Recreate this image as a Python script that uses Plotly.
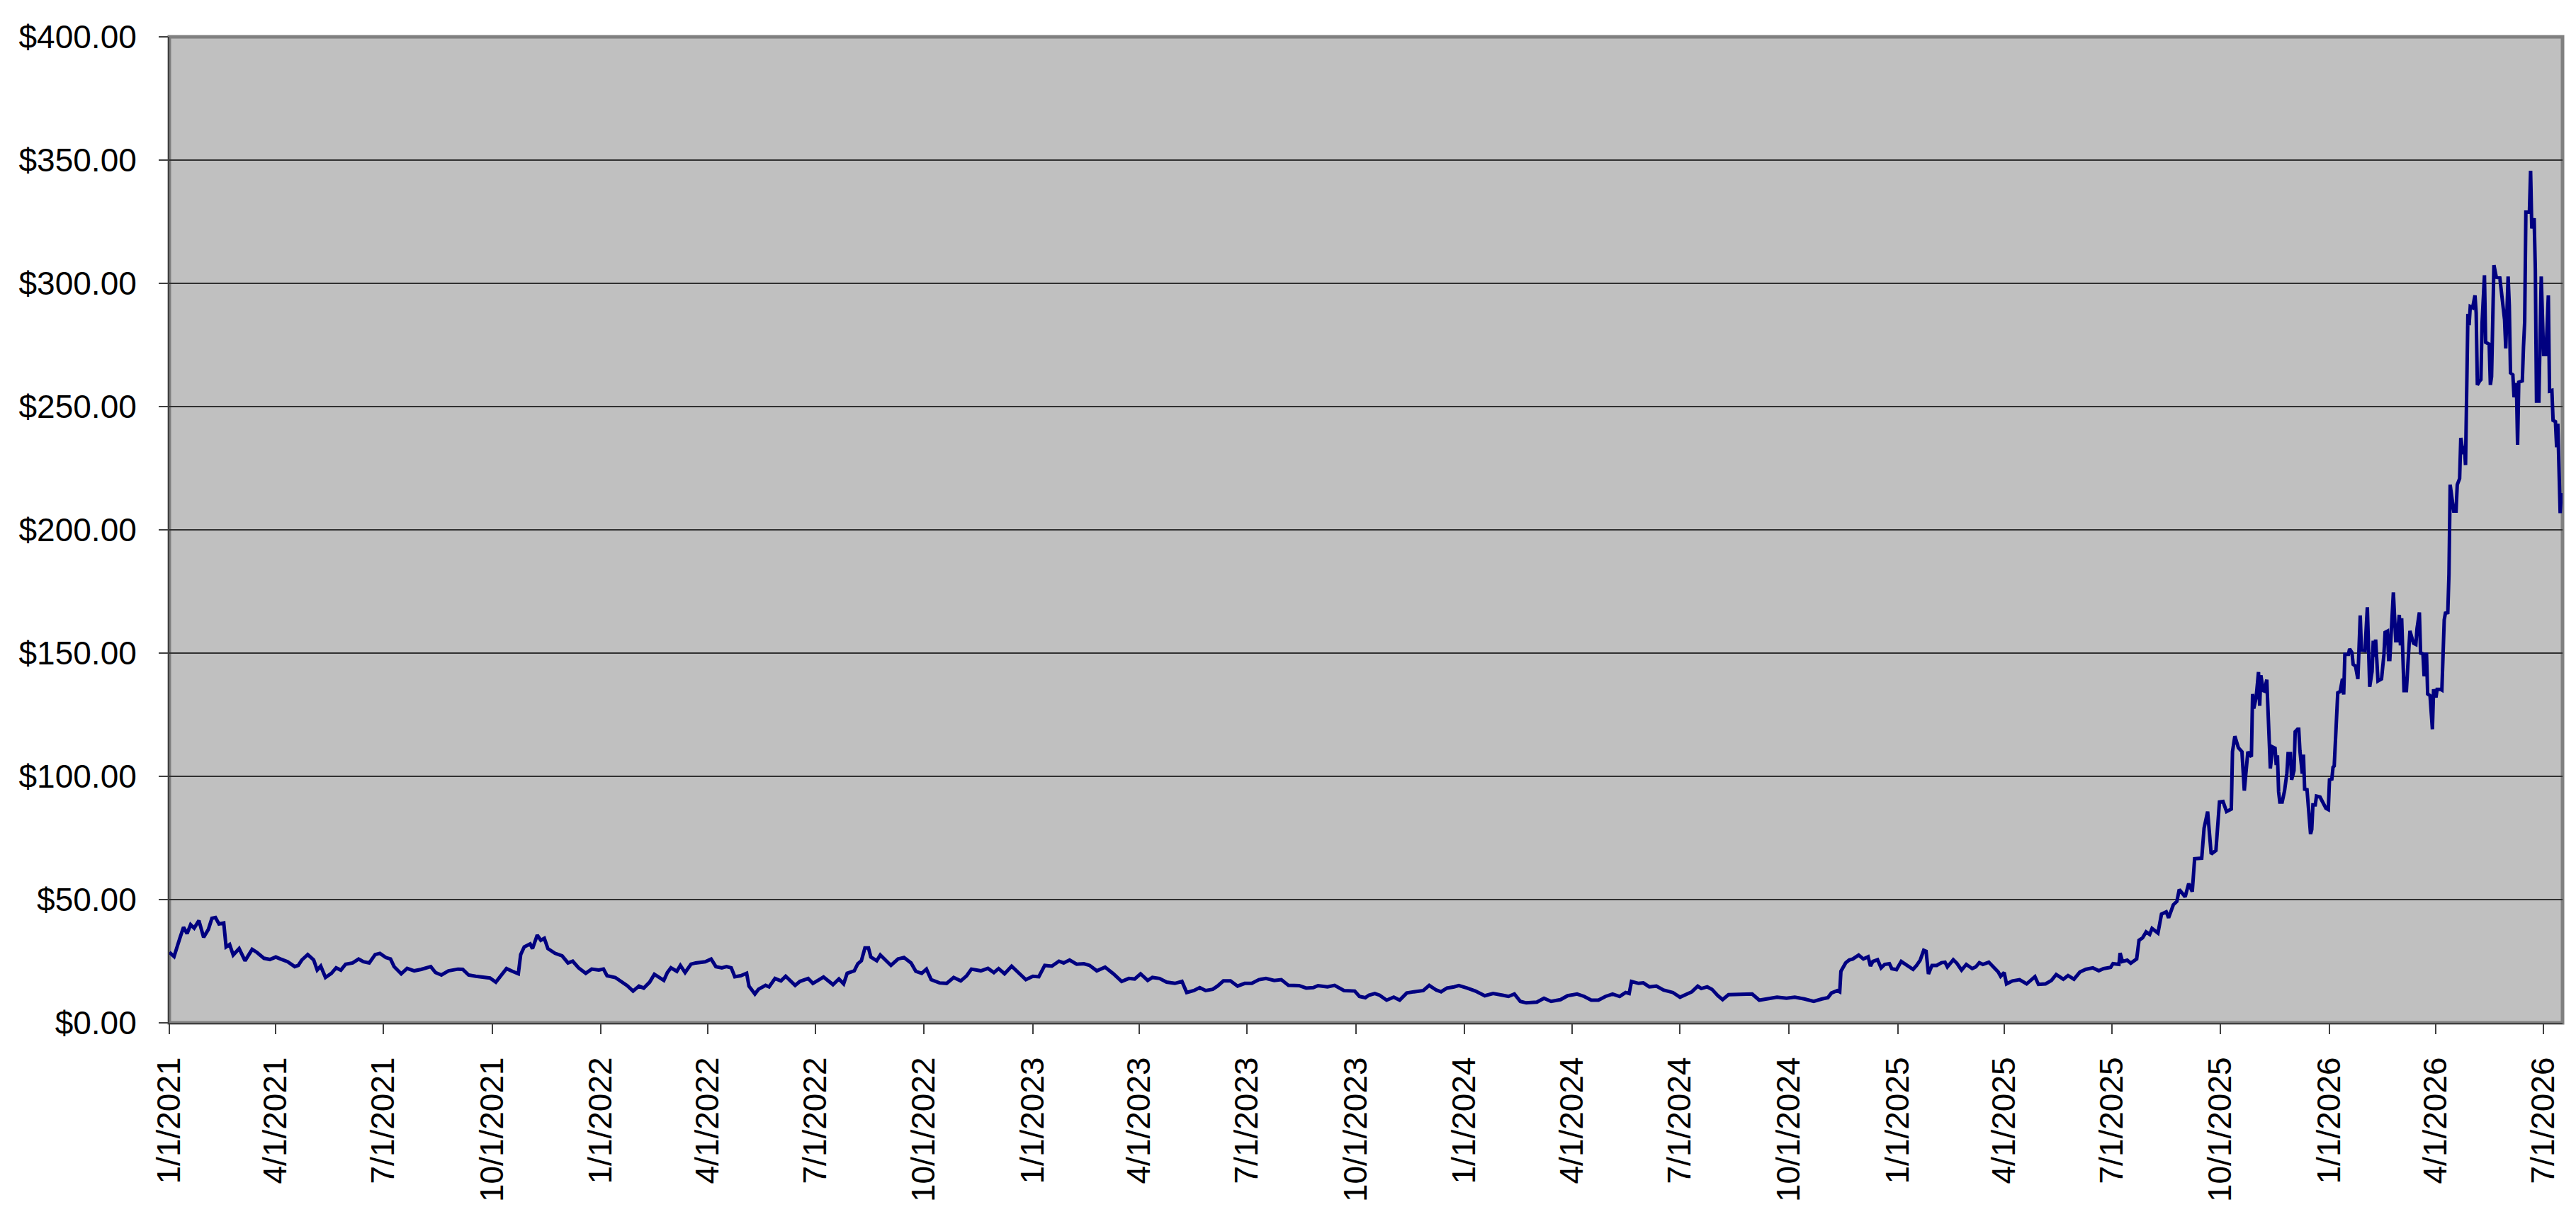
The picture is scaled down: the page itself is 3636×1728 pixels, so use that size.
import pandas as pd
import plotly.graph_objects as go

# price readings, x given as days since 1/1/2021
days_2021 = [0, 4, 9, 12, 15, 18, 21, 25, 29, 33, 36, 39, 42, 46, 48, 51, 54, 59, 64, 70,
             74, 80, 85, 90, 94, 100, 106, 109, 112, 117, 122, 125, 128, 132, 137, 141, 145, 149, 155, 160,
             164, 169, 174, 178, 183, 187, 190, 196, 201, 207, 213, 221, 225, 230, 236, 244, 248, 253, 259, 265,
             271, 276, 280, 285, 290, 295, 297, 300, 305, 307, 311, 314, 317, 320, 326, 332, 337, 341, 346, 352,
             357, 363, 367, 370, 377, 381, 387, 392, 397, 401, 406, 410, 415, 418, 421, 424, 429, 432, 436, 441,
             445, 448, 453, 458, 462, 467, 471]
price_2021 = [28.6, 26.9, 34.5, 38.8, 36.2, 39.8, 38.4, 41.5, 34.7, 37.9, 42.4, 42.7, 40.1, 40.5, 30.8, 31.8, 27.5, 30.1, 25.2, 29.8,
              28.6, 26.2, 25.7, 26.7, 25.9, 24.8, 22.8, 23.3, 25.5, 27.7, 25.5, 21.4, 23.0, 18.4, 20.1, 22.3, 21.4, 23.8, 24.3, 25.9,
              24.8, 24.3, 27.7, 28.2, 26.5, 25.9, 22.8, 19.9, 22.1, 21.1, 21.7, 22.8, 20.4, 19.4, 21.1, 21.8, 21.7, 19.4, 18.9, 18.7,
              18.2, 16.5, 18.9, 22.0, 20.9, 19.9, 27.7, 30.8, 32.0, 30.1, 35.6, 33.5, 34.3, 30.1, 28.2, 27.2, 24.3, 25.0, 22.3, 20.1,
              21.8, 21.4, 21.8, 19.1, 18.4, 17.2, 15.1, 12.9, 14.9, 14.1, 16.5, 19.7, 18.0, 17.2, 20.4, 22.3, 20.9, 23.3, 20.4, 23.8,
              24.3, 24.6, 24.8, 25.9, 22.8, 22.3, 22.8]

days_2022 = [475, 478, 483, 488, 490, 495, 498, 504, 507, 512, 517, 521, 529, 533, 540, 544, 553, 561, 566, 570,
             573, 579, 582, 585, 588, 591, 593, 598, 601, 605, 610, 616, 621, 627, 631, 636, 640, 644, 651, 657,
             663, 669, 674, 678, 686, 692, 697, 701, 706, 712, 717, 724, 730, 735, 740, 746, 752, 756, 761, 767,
             773, 778, 784, 791, 798, 805, 811, 816, 821, 827, 831, 837, 843, 850, 856, 860, 866, 871, 876, 882,
             886, 891, 897, 903, 909, 915, 921, 927, 934, 940, 946, 953]
price_2022 = [22.3, 18.7, 19.1, 20.1, 14.9, 11.7, 13.6, 15.2, 14.6, 18.0, 17.0, 18.9, 15.2, 16.8, 18.0, 16.0, 18.6, 15.5, 17.8, 15.8,
              20.1, 21.1, 24.0, 25.2, 30.4, 30.4, 26.7, 25.2, 27.5, 25.5, 23.3, 25.9, 26.5, 24.3, 20.9, 20.1, 21.8, 17.5, 16.2, 16.0,
              18.4, 17.0, 19.1, 21.8, 21.1, 22.1, 20.4, 22.0, 19.9, 23.0, 20.9, 17.5, 18.9, 18.7, 23.3, 23.0, 25.0, 24.3, 25.5, 23.8,
              24.0, 23.3, 21.1, 22.6, 19.9, 16.8, 18.0, 17.8, 19.9, 17.2, 18.4, 18.0, 16.5, 16.0, 16.8, 12.3, 13.1, 14.3, 13.1, 13.6,
              14.9, 17.0, 17.0, 14.9, 16.0, 16.0, 17.5, 18.0, 17.2, 17.5, 15.2, 14.9]

days_2023 = [955, 961, 967, 971, 979, 985, 993, 1002, 1006, 1011, 1014, 1019, 1023, 1029, 1035, 1040, 1046, 1052, 1060, 1065,
             1071, 1075, 1080, 1086, 1090, 1097, 1104, 1112, 1119, 1127, 1132, 1137, 1142, 1147, 1156, 1162, 1168, 1176, 1182, 1190,
             1196, 1202, 1208, 1214, 1220, 1226, 1231, 1234, 1236, 1242, 1246, 1251, 1257, 1263, 1271, 1277, 1283, 1287, 1292, 1295,
             1300, 1304, 1309, 1313, 1318, 1327, 1338, 1344, 1352, 1359, 1367, 1374, 1382, 1390, 1397, 1402, 1405, 1410, 1412, 1413,
             1417, 1420, 1423, 1428, 1432]
price_2023 = [15.1, 14.1, 14.3, 15.1, 14.6, 15.2, 13.1, 12.9, 10.7, 10.2, 11.2, 11.9, 11.2, 9.2, 10.4, 9.2, 12.1, 12.6, 13.1, 15.2,
              13.3, 12.6, 14.1, 14.6, 15.1, 14.1, 12.9, 11.0, 11.9, 11.2, 10.7, 11.7, 8.7, 8.1, 8.4, 10.0, 8.7, 9.4, 11.0, 11.7,
              10.7, 9.2, 9.2, 10.7, 11.7, 10.7, 12.3, 11.9, 16.8, 16.0, 16.2, 14.6, 14.9, 13.3, 12.3, 10.4, 11.9, 12.6, 14.9, 13.9,
              14.6, 13.6, 11.0, 9.4, 11.4, 11.4, 11.7, 9.2, 9.7, 10.4, 10.0, 10.4, 9.7, 8.7, 9.7, 10.2, 12.1, 13.1, 12.6, 20.9,
              24.3, 25.5, 25.9, 27.5, 25.9]

days_2025 = [1434, 1436, 1438, 1440, 1444, 1447, 1450, 1454, 1456, 1460, 1464, 1469, 1474, 1477, 1480, 1483, 1485, 1487, 1490, 1494,
             1498, 1501, 1503, 1508, 1511, 1515, 1519, 1524, 1527, 1530, 1533, 1538, 1542, 1546, 1548, 1551, 1553, 1558, 1564, 1570,
             1577, 1580, 1586, 1591, 1595, 1601, 1605, 1610, 1615, 1620, 1626, 1631, 1635, 1641, 1643, 1648, 1649, 1651, 1655, 1658,
             1663, 1665, 1668, 1671, 1674, 1676, 1681, 1684, 1688, 1690, 1694, 1697, 1699, 1704, 1707, 1710, 1712, 1718, 1720, 1723,
             1726, 1730, 1733, 1736, 1739, 1743, 1744, 1746, 1749, 1752, 1754, 1757, 1759]
price_2025 = [26.5, 26.8, 23.0, 24.9, 25.6, 22.3, 23.7, 24.0, 22.0, 21.6, 24.9, 23.5, 21.7, 23.3, 25.4, 29.4, 29.0, 19.8, 23.3, 23.3,
              24.4, 24.6, 22.7, 25.6, 24.2, 21.4, 23.7, 22.0, 22.7, 24.4, 23.7, 24.6, 22.5, 20.6, 18.9, 20.4, 15.8, 17.0, 17.5, 15.8,
              18.7, 15.6, 15.8, 17.2, 19.6, 17.7, 19.2, 17.7, 20.6, 21.7, 22.3, 21.1, 22.0, 22.5, 24.0, 23.7, 28.3, 24.9, 25.4, 24.2,
              25.9, 33.5, 34.5, 36.9, 35.9, 38.3, 36.4, 44.1, 45.0, 42.6, 47.9, 49.3, 54.1, 51.1, 56.5, 53.2, 66.6, 66.8, 79.0, 85.7,
              68.5, 69.9, 89.6, 89.8, 85.7, 86.7, 110.0, 116.3, 111.6, 110.0, 94.2, 110.0, 108.4]

days_2026a = [1760, 1761, 1762, 1764, 1766, 1767, 1768, 1770, 1771, 1773, 1774, 1776, 1778, 1780, 1781, 1782, 1783, 1784, 1786, 1788,
              1790, 1791, 1793, 1794, 1796, 1797, 1799, 1800, 1801, 1803, 1804, 1805, 1807, 1808, 1810, 1811, 1812, 1814, 1815, 1818,
              1820, 1823, 1825, 1826, 1828, 1829, 1830, 1831, 1833, 1835, 1837, 1838, 1839, 1842, 1843, 1845, 1846, 1848, 1850, 1852,
              1853, 1856, 1858, 1860, 1862, 1863, 1864, 1865, 1867, 1870, 1872, 1873, 1875, 1876, 1877, 1880, 1882, 1883, 1885, 1886,
              1887, 1889, 1891, 1893, 1894, 1897, 1899, 1900, 1902, 1903, 1905, 1906, 1908, 1909, 1911, 1913, 1914, 1916, 1917, 1920,
              1921, 1923, 1924, 1926]
price_2026a = [108.0, 133.4, 127.5, 132.0, 142.3, 128.6, 141.0, 134.8, 134.6, 139.2, 126.7, 103.2, 111.9, 111.4, 104.6, 108.5, 93.7, 89.6, 89.6, 94.1,
               101.3, 109.2, 109.2, 98.6, 102.3, 118.1, 119.1, 119.1, 110.4, 101.1, 108.8, 94.8, 94.6, 87.9, 76.6, 78.4, 88.4, 88.4, 92.0, 91.6,
               89.9, 87.0, 86.5, 98.6, 98.9, 103.7, 104.2, 112.8, 133.9, 134.4, 139.6, 133.2, 149.5, 149.5, 151.7, 150.2, 145.4, 144.7, 139.5, 165.3,
               151.2, 151.0, 168.6, 136.3, 142.5, 155.0, 148.5, 155.5, 138.7, 139.5, 149.3, 158.4, 158.9, 147.4, 147.4, 174.6, 155.0, 155.0, 165.5, 153.1,
               164.1, 134.8, 134.8, 151.2, 159.0, 154.0, 153.5, 160.0, 166.5, 150.0, 149.7, 140.6, 150.2, 133.4, 132.7, 119.1, 135.3, 132.0, 135.3, 135.3,
               135.0, 163.5, 166.2, 166.4]

days_2026b = [1927, 1928, 1931, 1933, 1934, 1936, 1937, 1939, 1940, 1941, 1943, 1944, 1945, 1947, 1949, 1950, 1951, 1953, 1954, 1955,
              1957, 1958, 1961, 1962, 1963, 1965, 1967, 1970, 1972, 1974, 1975, 1977, 1978, 1979, 1981, 1982, 1984, 1985, 1986, 1989,
              1990, 1991, 1992, 1995, 1996, 1997, 1999, 2000, 2001, 2003, 2005, 2007, 2009, 2011, 2012, 2014, 2015, 2017, 2018, 2019,
              2021, 2022]
price_2026b = [182.0, 218.3, 207.6, 207.6, 218.3, 220.8, 237.3, 230.7, 234.0, 226.3, 287.6, 283.0, 290.6, 290.1, 295.1, 288.0, 258.8, 260.4, 260.9, 284.0,
               303.3, 276.1, 275.3, 258.8, 262.1, 307.4, 302.5, 302.2, 292.6, 285.2, 273.6, 302.8, 291.0, 263.7, 262.9, 253.8, 259.6, 234.5, 259.9, 260.4,
               274.4, 284.3, 328.9, 328.9, 345.7, 322.3, 326.4, 305.8, 252.2, 252.2, 302.8, 271.1, 271.1, 295.1, 256.3, 256.6, 244.4, 243.9, 233.5, 243.1,
               206.8, 215.0]

y_ticks = [0, 50, 100, 150, 200, 250, 300, 350, 400]
y_labels = [f"${v:.2f}" for v in y_ticks]

days = days_2021 + days_2022 + days_2023 + days_2025 + days_2026a + days_2026b
prices = price_2021 + price_2022 + price_2023 + price_2025 + price_2026a + price_2026b
start = pd.Timestamp("2021-01-01")
dates = start + pd.to_timedelta(days, unit="D")

# quarterly date ticks, m/d/yyyy like the spreadsheet
quarters = pd.date_range("2021-01-01", "2026-07-01", freq="QS")
quarter_labels = [f"{d.month}/{d.day}/{d.year}" for d in quarters]

font = dict(family="Liberation Sans, Arial, sans-serif", size=46, color="black")

fig = go.Figure()
fig.add_trace(go.Scatter(
    x=dates, y=prices, mode="lines",
    line=dict(color="#000080", width=5),
    showlegend=False,
))

# grey plot-area frame
fig.add_shape(type="rect", xref="paper", yref="paper", x0=0, y0=0, x1=1, y1=1,
              line=dict(color="#808080", width=5), layer="below")

fig.update_layout(
    width=3636, height=1728,
    margin=dict(l=231, r=27, t=44, b=292),
    paper_bgcolor="white",
    plot_bgcolor="#C0C0C0",
    font=font,
)
fig.update_xaxes(
    type="date",
    range=[start, pd.Timestamp("2026-07-17")],
    tickvals=quarters, ticktext=quarter_labels,
    tickangle=-90, tickfont=font,
    ticks="outside", ticklen=14, tickwidth=2, tickcolor="#404040",
    ticklabelstandoff=14,
    showgrid=False, zeroline=False,
    showline=True, linecolor="#404040", linewidth=2,
)
fig.update_yaxes(
    range=[0, 400], tickvals=y_ticks, ticktext=y_labels,
    tickfont=font,
    ticks="outside", ticklen=13, tickwidth=2, tickcolor="#404040",
    ticklabelstandoff=22,
    showgrid=True, gridcolor="#303030", gridwidth=1.5,
    zeroline=False,
    showline=True, linecolor="#404040", linewidth=2,
)

fig.write_html("out.html")
